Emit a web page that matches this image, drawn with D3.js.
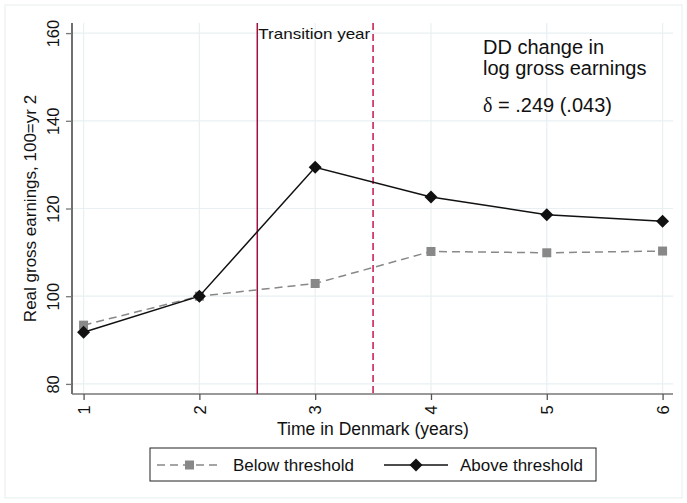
<!DOCTYPE html>
<html><head><meta charset="utf-8">
<script src="https://cdn.jsdelivr.net/npm/d3@7"></script>
<style>body{margin:0;background:#fff}svg{display:block;font-family:"Liberation Sans",Arial,sans-serif}</style>
</head><body><svg id="c" width="687" height="503"></svg>
<script>
const years = [1, 2, 3, 4, 5, 6];
const below = [93.4, 100, 102.9, 110.2, 109.9, 110.3];
const above = [91.8, 100, 129.4, 122.6, 118.6, 117.1];
const yTicks = [80, 100, 120, 140, 160];
const xTicks = [1, 2, 3, 4, 5, 6];
const transition = [2.5, 3.5];
const seriesNames = ["Below threshold", "Above threshold"];

const svg = d3.select("#c");
const L = 72, R = 673, T = 23, B = 394;
const x = d3.scaleLinear().domain([0.9, 6.09]).range([L, R]);
const y = d3.scaleLinear().domain([77.7, 162.3]).range([B, T]);

// outer frame
svg.append("rect").attr("x", 5).attr("y", 5).attr("width", 677).attr("height", 493)
  .attr("fill", "#fff").attr("stroke", "#e6eef0").attr("stroke-width", 1);

// grid
const grid = svg.append("g").attr("stroke", "#e8f0f2").attr("stroke-width", 1.2);
yTicks.forEach(v => grid.append("line").attr("x1", L).attr("x2", R).attr("y1", y(v)).attr("y2", y(v)));
xTicks.forEach(v => grid.append("line").attr("y1", T).attr("y2", B).attr("x1", x(v)).attr("x2", x(v)));

// axes
const yAxis = svg.append("g").attr("transform", `translate(${L},0)`)
  .call(d3.axisLeft(y).tickValues(yTicks).tickSize(6).tickPadding(4));
yAxis.select(".domain").attr("d", `M0,${T}V${B}`).attr("stroke", "#222").attr("stroke-width", 1.3);
yAxis.selectAll(".tick line").attr("stroke", "#777").attr("stroke-width", 1.3);
yAxis.selectAll(".tick text").attr("font-size", 16.5).attr("fill", "#111")
  .attr("transform", "rotate(-90)").attr("x", 0).attr("y", -13.5).attr("dy", 0)
  .attr("text-anchor", "middle");

const xAxis = svg.append("g").attr("transform", `translate(0,${B})`)
  .call(d3.axisBottom(x).tickValues(xTicks).tickSize(6).tickFormat(d3.format("d")));
xAxis.select(".domain").attr("d", `M${L},0H${R}`).attr("stroke", "#777").attr("stroke-width", 1.3);
xAxis.selectAll(".tick line").attr("stroke", "#555").attr("stroke-width", 1.3);
xAxis.selectAll(".tick text").attr("font-size", 16.5).attr("fill", "#111")
  .attr("transform", "rotate(-90)").attr("x", -16).attr("y", 0).attr("dy", "0.35em")
  .attr("text-anchor", "middle");

// axis titles
svg.append("text").attr("transform", `translate(36,${(T + B) / 2}) rotate(-90)`)
  .attr("text-anchor", "middle").attr("font-size", 17).attr("fill", "#111")
  .text("Real gross earnings, 100=yr 2");
svg.append("text").attr("x", 373).attr("y", 435).attr("text-anchor", "middle")
  .attr("font-size", 17.5).attr("fill", "#111").text("Time in Denmark (years)");

// transition lines
svg.append("line").attr("x1", x(transition[0])).attr("x2", x(transition[0])).attr("y1", T).attr("y2", B)
  .attr("stroke", "#a3103f").attr("stroke-width", 1.5);
svg.append("line").attr("x1", x(transition[1])).attr("x2", x(transition[1])).attr("y1", T).attr("y2", B)
  .attr("stroke", "#c8164c").attr("stroke-width", 1.5).attr("stroke-dasharray", "7,4");
svg.append("text").attr("x", x(transition[0]) + 1).attr("y", 39).attr("font-size", 15)
  .attr("textLength", 112).attr("lengthAdjust", "spacingAndGlyphs")
  .attr("fill", "#111").text("Transition year");

// annotations
const ann = svg.append("g").attr("font-size", 20).attr("fill", "#111");
ann.append("text").attr("x", 483).attr("y", 54).text("DD change in");
ann.append("text").attr("x", 483).attr("y", 75).text("log gross earnings");
const dl = ann.append("text").attr("x", 483).attr("y", 112);
dl.append("tspan").attr("font-family", "'Liberation Serif','DejaVu Serif',serif").text("\u03b4");
dl.append("tspan").text(" = .249 (.043)");

const line = d3.line().x((d, i) => x(years[i])).y(d => y(d));
// below series
svg.append("path").datum(below).attr("d", line).attr("fill", "none")
  .attr("stroke", "#888").attr("stroke-width", 1.5).attr("stroke-dasharray", "8,5");
svg.append("g").selectAll("rect").data(below).join("rect")
  .attr("x", (d, i) => x(years[i]) - 4.5).attr("y", d => y(d) - 4.5)
  .attr("width", 9).attr("height", 9).attr("fill", "#888");
// above series
svg.append("path").datum(above).attr("d", line).attr("fill", "none")
  .attr("stroke", "#111").attr("stroke-width", 1.5);
const diamond = "M0,-6.5L6.5,0L0,6.5L-6.5,0Z";
svg.append("g").selectAll("path").data(above).join("path")
  .attr("d", diamond).attr("transform", (d, i) => `translate(${x(years[i])},${y(d)})`)
  .attr("fill", "#111");

// legend
const lg = svg.append("g");
lg.append("rect").attr("x", 150).attr("y", 448).attr("width", 446).attr("height", 33)
  .attr("fill", "#fff").attr("stroke", "#222").attr("stroke-width", 1);
const ly = 465;
lg.append("line").attr("x1", 157).attr("x2", 222).attr("y1", ly).attr("y2", ly)
  .attr("stroke", "#888").attr("stroke-width", 1.5).attr("stroke-dasharray", "8,5");
lg.append("rect").attr("x", 185).attr("y", ly - 4.5).attr("width", 9).attr("height", 9).attr("fill", "#888");
lg.append("text").attr("x", 233).attr("y", ly + 6).attr("font-size", 17).attr("fill", "#111").text(seriesNames[0]);
lg.append("line").attr("x1", 384).attr("x2", 448).attr("y1", ly).attr("y2", ly)
  .attr("stroke", "#111").attr("stroke-width", 1.5);
lg.append("path").attr("d", diamond).attr("transform", `translate(416,${ly})`).attr("fill", "#111");
lg.append("text").attr("x", 460).attr("y", ly + 6).attr("font-size", 17).attr("fill", "#111").text(seriesNames[1]);
</script></body></html>
